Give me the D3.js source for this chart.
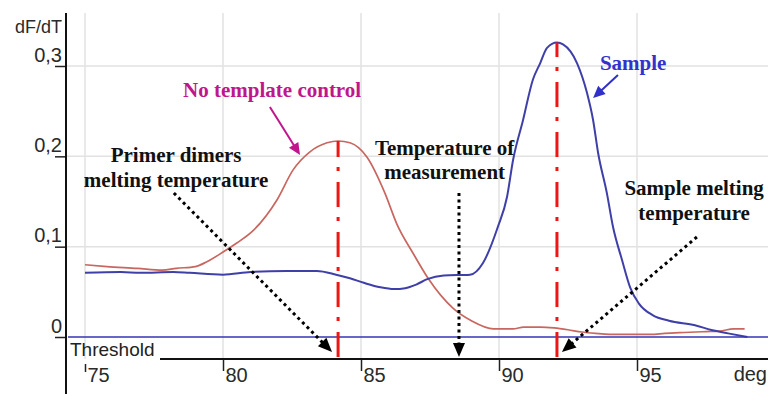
<!DOCTYPE html>
<html><head><meta charset="utf-8">
<script src="https://cdn.jsdelivr.net/npm/d3@7"></script>
<style>body{margin:0;background:#fff}svg{display:block}</style>
</head><body><svg id="c" width="768" height="394"></svg>
<script>
// ---- data ----
const ntcTemp = [75, 75.8, 76.9, 77.8, 78.3, 79.0, 79.4, 80.0, 80.5, 81.1, 81.96, 82.54, 83.15, 83.77, 84.17, 84.6, 85.22, 85.87, 86.3, 86.88, 87.43, 88.33, 89.0, 89.8, 90.5, 90.9, 91.5, 92.0, 92.5, 93.0, 93.5, 94.0, 95.0, 95.5, 96.0, 96.7, 97.5, 98.0, 98.5, 98.9];
const ntcVal  = [0.080, 0.078, 0.076, 0.074, 0.076, 0.078, 0.083, 0.094, 0.104, 0.118, 0.152, 0.185, 0.205, 0.215, 0.217, 0.215, 0.199, 0.159, 0.125, 0.093, 0.065, 0.032, 0.018, 0.009, 0.009, 0.011, 0.011, 0.010, 0.008, 0.0055, 0.004, 0.003, 0.003, 0.003, 0.004, 0.005, 0.006, 0.0066, 0.009, 0.009];
const sampleTemp = [75, 76.3, 77, 78.2, 78.8, 80, 81, 82.3, 83.4, 84.1, 84.6, 85.1, 85.7, 86.2, 86.6, 87.0, 87.4, 88, 88.95, 89.42, 89.96, 90.29, 90.51, 90.87, 91.23, 91.49, 91.74, 92.1, 92.32, 92.83, 93.19, 93.41, 93.59, 93.91, 94.13, 94.46, 94.75, 95.07, 95.58, 96.16, 97.1, 97.7, 98.3, 99.0];
const sampleVal  = [0.071, 0.072, 0.071, 0.072, 0.071, 0.069, 0.072, 0.073, 0.073, 0.069, 0.065, 0.060, 0.055, 0.053, 0.054, 0.058, 0.064, 0.068, 0.069, 0.082, 0.122, 0.155, 0.196, 0.240, 0.285, 0.303, 0.320, 0.326, 0.324, 0.303, 0.270, 0.240, 0.204, 0.159, 0.122, 0.085, 0.055, 0.037, 0.024, 0.018, 0.013, 0.0077, 0.004, 0.0];
const xTicks = [75, 80, 85, 90, 95];
const yTicks = [0, 0.1, 0.2, 0.3];
const thresholdVal = 0;
const dimerTm = 84.17, sampleTm = 92.1, measureTemp = 88.55;

// ---- setup ----
const W = 768, H = 394;
const svg = d3.select('#c');
const x = d3.scaleLinear().domain([75, 95]).range([85, 637]);
const y = d3.scaleLinear().domain([0, 0.3]).range([337, 66]);
const P = (d, v) => [x(d), y(v)];
const sans = "'Liberation Sans', Arial, sans-serif";
const serif = "'Liberation Serif', 'Times New Roman', serif";

// gridlines
svg.append('g').selectAll('line').data(xTicks).join('line')
  .attr('x1', d => x(d)).attr('x2', d => x(d)).attr('y1', 13).attr('y2', 359)
  .attr('stroke', '#e2e2e2').attr('stroke-width', 1.5);
svg.append('g').selectAll('line').data(yTicks.filter(v => v > 0)).join('line')
  .attr('x1', 66).attr('x2', W).attr('y1', d => y(d)).attr('y2', d => y(d))
  .attr('stroke', '#e2e2e2').attr('stroke-width', 1.5);

// curves
const line = d3.line().x(d => x(d[0])).y(d => y(d[1])).curve(d3.curveMonotoneX);
svg.append('path').datum(ntcTemp.map((t, i) => [t, ntcVal[i]]))
  .attr('d', line).attr('fill', 'none').attr('stroke', '#c8665f').attr('stroke-width', 1.7);
svg.append('path').datum(sampleTemp.map((t, i) => [t, sampleVal[i]]))
  .attr('d', line).attr('fill', 'none').attr('stroke', '#3f3fa8').attr('stroke-width', 2);

// threshold line
svg.append('line').attr('x1', 68).attr('x2', W).attr('y1', y(thresholdVal)).attr('y2', y(thresholdVal))
  .attr('stroke', '#3535b5').attr('stroke-width', 1.6);

// red dash-dot melting lines
[[dimerTm, d3.max(ntcVal)], [sampleTm, d3.max(sampleVal)]].forEach(([t, v]) => {
  svg.append('line').attr('x1', x(t)).attr('x2', x(t)).attr('y1', 357).attr('y2', y(v))
    .attr('stroke', '#ee1515').attr('stroke-width', 3).attr('stroke-dasharray', '25,11,4,10');
});

// axes
const yAxis = svg.append('g').attr('transform', 'translate(66,0)')
  .call(d3.axisLeft(y).tickValues(yTicks).tickSize(11).tickFormat(d => d === 0 ? '0' : d3.format('.1f')(d).replace('.', ',')));
yAxis.select('.domain').remove();
yAxis.selectAll('line').attr('stroke', '#222').attr('stroke-width', 1.5);
yAxis.selectAll('text').attr('x', -4).attr('dy', '-5px').attr('text-anchor', 'end')
  .style('font-family', sans).style('font-size', '20px').attr('fill', '#2a2a2a');

const xAxis = svg.append('g').attr('transform', 'translate(0,359)')
  .call(d3.axisBottom(x).tickValues(xTicks).tickSize(12).tickFormat(d3.format('d')));
xAxis.select('.domain').remove();
xAxis.selectAll('line').attr('stroke', '#222').attr('stroke-width', 1.5)
  .attr('y1', (d, i) => i === 0 ? 5 : 0).attr('y2', (d, i) => i === 0 ? 13 : 12);
xAxis.selectAll('text').attr('x', 2).attr('y', 23).attr('dy', 0).attr('text-anchor', 'start')
  .style('font-family', sans).style('font-size', '20px').attr('fill', '#2a2a2a');

svg.append('line').attr('x1', 66).attr('x2', 66).attr('y1', 13).attr('y2', H).attr('stroke', '#111').attr('stroke-width', 2);
svg.append('line').attr('x1', 160).attr('x2', W).attr('y1', 359).attr('y2', 359).attr('stroke', '#111').attr('stroke-width', 1.8);

svg.append('text').attr('x', 62).attr('y', 33).attr('text-anchor', 'end').text('dF/dT')
  .style('font-family', sans).style('font-size', '18px').attr('fill', '#2a2a2a');
svg.append('text').attr('x', 767).attr('y', 381).attr('text-anchor', 'end').text('deg')
  .style('font-family', sans).style('font-size', '20px').attr('fill', '#2a2a2a');
svg.append('text').attr('x', 70).attr('y', 356).text('Threshold')
  .style('font-family', sans).style('font-size', '19px').attr('fill', '#222');

// ---- annotations (data units) ----
function arrowHead(g, from, to, color, len, half) {
  const dx = to[0] - from[0], dy = to[1] - from[1], L = Math.hypot(dx, dy);
  const ux = dx / L, uy = dy / L;
  const bx = to[0] - ux * len, by = to[1] - uy * len;
  g.append('polygon').attr('points', [to, [bx - uy * half, by + ux * half], [bx + uy * half, by - ux * half]].map(p => p.join(',')).join(' '))
    .attr('fill', color);
  return [bx + ux * 2, by + uy * 2];
}
function arrow(from, to, color, width, dotted, len, half) {
  const g = svg.append('g');
  const a = P(...from), b = P(...to);
  const end = arrowHead(g, a, b, color, len, half);
  g.insert('line', 'polygon').attr('x1', a[0]).attr('y1', a[1]).attr('x2', end[0]).attr('y2', end[1])
    .attr('stroke', color).attr('stroke-width', width).attr('stroke-dasharray', dotted ? '3,3.5' : null);
}
arrow([78.22, 0.1594], [dimerTm - 0.22, -0.0166], '#000', 3, true, 14, 6);
arrow([measureTemp, 0.1594], [measureTemp, -0.0221], '#000', 3, true, 14, 6);
arrow([97.17, 0.1107], [sampleTm + 0.18, -0.0166], '#000', 3, true, 14, 6);
arrow([81.70, 0.2546], [82.79, 0.2015], '#c0168c', 2, false, 12, 5.5);
arrow([94.31, 0.2900], [93.41, 0.2646], '#3030c8', 2, false, 12, 5.5);

const notes = [
  {t: 'No template control', d: 81.78, v: 0.2657, c: '#c0168c'},
  {t: 'Sample', d: 94.86, v: 0.2956, c: '#3333cc'},
  {t: 'Primer dimers', d: 78.30, v: 0.1937, c: '#111'},
  {t: 'melting temperature', d: 78.30, v: 0.1661, c: '#111'},
  {t: 'Temperature of', d: 88.03, v: 0.2015, c: '#111'},
  {t: 'measurement', d: 88.03, v: 0.1749, c: '#111'},
  {t: 'Sample melting', d: 97.07, v: 0.1572, c: '#111'},
  {t: 'temperature', d: 97.07, v: 0.1295, c: '#111'}
];
svg.append('g').selectAll('text').data(notes).join('text')
  .attr('x', n => x(n.d)).attr('y', n => y(n.v)).attr('text-anchor', 'middle')
  .style('font-family', serif).style('font-weight', 'bold').style('font-size', '21px')
  .attr('fill', n => n.c).text(n => n.t);
</script></body></html>
